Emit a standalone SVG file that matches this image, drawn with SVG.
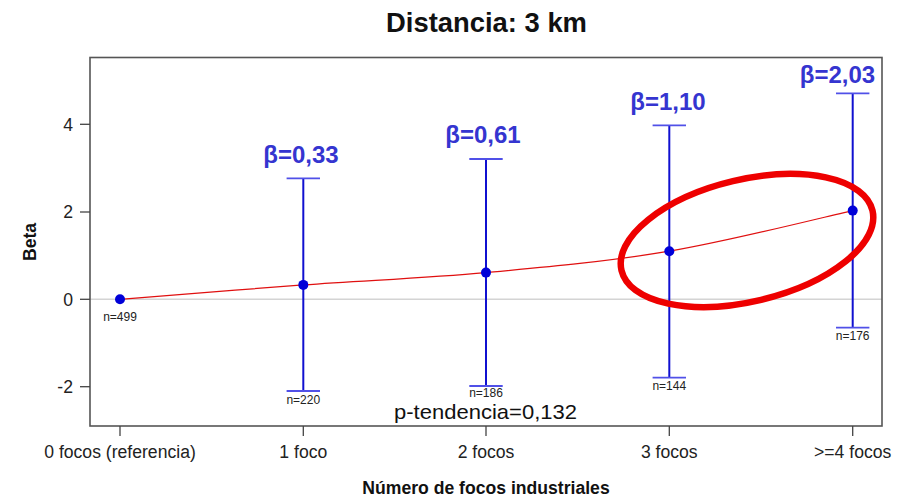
<svg xmlns="http://www.w3.org/2000/svg" width="897" height="497" viewBox="0 0 897 497">
<style>
text{font-family:"Liberation Sans",Arial,sans-serif}
.title{font-size:27.4px;font-weight:bold;fill:#111}
.axlab{font-size:17.6px;font-weight:bold;fill:#111}
.tick{font-size:17.6px;fill:#222}
.beta{font-size:24px;font-weight:bold;fill:#3535d0}
.n{font-size:12px;fill:#222}
.bar{stroke:#1010d0;stroke-width:2}
.cap{stroke:#5050e8;stroke-width:1.8}
.pt{fill:#0000d8}
.tk{stroke:#444;stroke-width:1.3}
</style>
<rect width="897" height="497" fill="#fff"/>
<text class="title" x="486.5" y="32" text-anchor="middle">Distancia: 3 km</text>
<g id="axes">
<line x1="90" y1="299.3" x2="882" y2="299.3" stroke="#d4d4d4" stroke-width="1.5"/>
<rect x="90" y="57.5" width="792" height="368.5" fill="none" stroke="#555" stroke-width="1.6"/>
<line class="tk" x1="80" y1="124.3" x2="90" y2="124.3"/>
<line class="tk" x1="80" y1="212" x2="90" y2="212"/>
<line class="tk" x1="80" y1="299.3" x2="90" y2="299.3"/>
<line class="tk" x1="80" y1="386.7" x2="90" y2="386.7"/>
<text class="tick" x="73" y="130.6" text-anchor="end">4</text>
<text class="tick" x="73" y="218.3" text-anchor="end">2</text>
<text class="tick" x="73" y="305.6" text-anchor="end">0</text>
<text class="tick" x="73" y="393" text-anchor="end">-2</text>
<line class="tk" x1="120" y1="426" x2="120" y2="436"/>
<line class="tk" x1="303.3" y1="426" x2="303.3" y2="436"/>
<line class="tk" x1="486" y1="426" x2="486" y2="436"/>
<line class="tk" x1="669.3" y1="426" x2="669.3" y2="436"/>
<line class="tk" x1="852.7" y1="426" x2="852.7" y2="436"/>
<text class="tick" x="120" y="457.5" text-anchor="middle">0 focos (referencia)</text>
<text class="tick" x="303.3" y="457.5" text-anchor="middle">1 foco</text>
<text class="tick" x="486" y="457.5" text-anchor="middle">2 focos</text>
<text class="tick" x="669.3" y="457.5" text-anchor="middle">3 focos</text>
<text class="tick" x="852.7" y="457.5" text-anchor="middle">&gt;=4 focos</text>
<text class="axlab" x="486" y="494" text-anchor="middle">Número de focos industriales</text>
<text class="axlab" transform="translate(36,242) rotate(-90)" text-anchor="middle">Beta</text>
</g>
<g id="connectors">
<path d="M120,299.3 C150.6,296.9 242.3,289.4 303.3,284.9 C364.3,280.45 425,278.2 486,272.6 C547,267 608.2,261.5 669.3,251.2 C730.4,240.9 822.1,217.4 852.7,210.6" fill="none" stroke="#e01010" stroke-width="1.2"/>
</g>
<g id="node-0">
<circle class="pt" cx="120" cy="299.3" r="5"/>
<text class="n" x="120" y="320.5" text-anchor="middle">n=499</text>
</g>
<g id="node-1">
<line class="bar" x1="303.3" y1="178.3" x2="303.3" y2="391"/>
<line class="cap" x1="286.6" y1="178.3" x2="320" y2="178.3"/>
<line class="cap" x1="286.6" y1="391" x2="320" y2="391"/>
<circle class="pt" cx="303.3" cy="284.9" r="5"/>
<text class="beta" x="301" y="163" text-anchor="middle">β=0,33</text>
<text class="n" x="303.3" y="404" text-anchor="middle">n=220</text>
</g>
<g id="node-2">
<line class="bar" x1="486" y1="159" x2="486" y2="386"/>
<line class="cap" x1="469.3" y1="159" x2="502.7" y2="159"/>
<line class="cap" x1="469.3" y1="386" x2="502.7" y2="386"/>
<circle class="pt" cx="486" cy="272.6" r="5"/>
<text class="beta" x="483" y="143.3" text-anchor="middle">β=0,61</text>
<text class="n" x="486" y="396.5" text-anchor="middle">n=186</text>
</g>
<g id="node-3">
<line class="bar" x1="669.3" y1="125.3" x2="669.3" y2="377.7"/>
<line class="cap" x1="652.6" y1="125.3" x2="686" y2="125.3"/>
<line class="cap" x1="652.6" y1="377.7" x2="686" y2="377.7"/>
<circle class="pt" cx="669.3" cy="251.2" r="5"/>
<text class="beta" x="668" y="110" text-anchor="middle">β=1,10</text>
<text class="n" x="669.3" y="390" text-anchor="middle">n=144</text>
</g>
<g id="node-4">
<line class="bar" x1="852.7" y1="93.3" x2="852.7" y2="327.7"/>
<line class="cap" x1="836" y1="93.3" x2="869.4" y2="93.3"/>
<line class="cap" x1="836" y1="327.7" x2="869.4" y2="327.7"/>
<circle class="pt" cx="852.7" cy="210.6" r="5"/>
<text class="beta" x="837.5" y="83" text-anchor="middle">β=2,03</text>
<text class="n" x="852.7" y="340" text-anchor="middle">n=176</text>
</g>
<text id="ptrend" x="485.5" y="419" text-anchor="middle" textLength="183" lengthAdjust="spacingAndGlyphs" style="font-size:21px;fill:#111">p-tendencia=0,132</text>
<ellipse id="highlight" cx="747" cy="240.5" rx="129" ry="61" transform="rotate(-13.4 747 240.5)" fill="none" stroke="#ee0000" stroke-width="6.5"/>
</svg>
